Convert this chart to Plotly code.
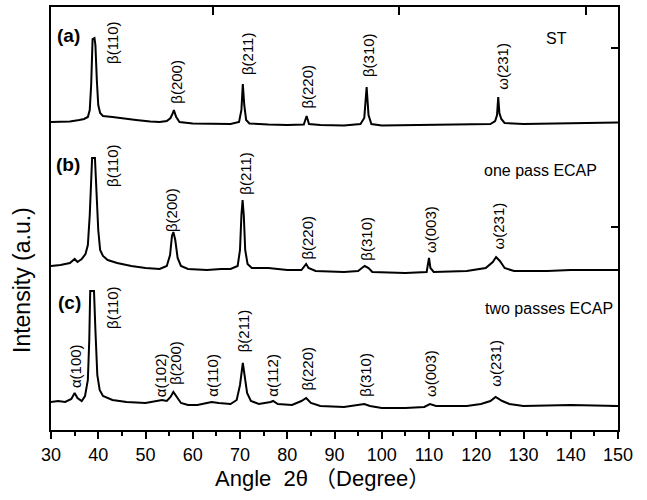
import plotly.graph_objects as go

# ---- data (intensity in arbitrary units with stacking offsets) ----
x_a = [30, 32, 34, 36, 37, 37.8, 38.2, 38.5, 38.7, 38.8, 39.2, 39.4, 39.7, 40.0, 40.4, 41, 43, 45, 48, 51, 53,
       54.5, 55.3, 55.8, 56.0, 56.5, 57.2, 60, 65, 68, 69.8, 70.3, 70.6, 70.9, 71.3, 72, 76, 80, 83.5, 84.1, 84.6,
       87, 92, 95.5, 96.3, 96.8, 97.2, 97.8, 100, 110, 118, 123, 124.0, 124.4, 124.65, 124.9, 125.3, 126, 130, 140, 150]
y_a = [308, 308, 308.5, 310, 311, 313, 320, 345, 380, 391, 392, 385, 350, 325, 317, 314, 313, 311.5, 310, 308.5, 308,
       309, 312, 317, 320, 313, 308, 306.5, 306, 306, 308, 320, 346, 325, 310, 306.5, 305.5, 305, 305.5, 314, 306,
       305, 304.5, 306, 312, 343, 315, 306, 304.5, 305, 305.5, 306, 309, 315, 333, 317, 311, 307, 306, 306.5, 307.5]

x_b = [30, 32, 34, 35, 35.6, 36.5, 37.3, 37.8, 38.2, 38.5, 38.7, 39.3, 39.6, 40.0, 40.4, 41.0, 42, 44, 47, 50, 53,
       54.5, 55.2, 55.6, 55.9, 56.3, 56.8, 57.5, 59, 63, 66, 68, 69.5, 70.0, 70.3, 70.55, 70.8, 71.1, 71.6, 72.5,
       76, 80, 83, 83.7, 84.0, 84.5, 86, 92, 95, 95.8, 96.4, 97.2, 98, 105, 109.5, 110.0, 110.3, 111, 118, 122,
       123.5, 124.2, 125.0, 126, 128, 135, 140, 150]
y_b = [164, 165, 167, 171, 168, 171, 176, 185, 215, 255, 272, 272, 245, 200, 180, 174, 170, 167, 164, 162, 161,
       164, 175, 194, 198, 190, 172, 164, 161, 160, 161, 161, 164, 180, 215, 230, 215, 180, 166, 162,
       162, 160, 160, 164, 166, 162, 159, 158, 159, 162, 164, 162, 158, 157, 158, 172, 162, 158, 159, 162,
       168, 173, 169, 162, 159, 159, 160, 160]

x_c = [30, 31.5, 33, 34.3, 35.0, 35.6, 36.5, 37.2, 37.8, 38.1, 38.3, 39.1, 39.4, 39.8, 40.3, 41.0, 43, 46, 50,
       52.5, 53.5, 54.5, 55.3, 55.9, 56.5, 57.5, 59, 61, 63, 64, 65.5, 68, 69.3, 70.0, 70.6, 71.0, 71.5, 72.3, 74,
       76.5, 77, 78, 81, 83, 84.0, 85, 87, 92, 95, 96.3, 97.5, 100, 105, 109, 110.2, 111.5, 118, 121, 123, 124.1,
       125.5, 127, 130, 140, 150]
y_c = [28, 29, 28, 31, 37, 32, 29, 34, 50, 90, 139, 139, 100, 55, 40, 34, 30, 28, 27,
       29, 30, 29, 33, 38, 34, 27, 25, 25, 27, 28, 27, 26, 30, 45, 67, 55, 37, 29, 26,
       28, 29, 26, 25, 29, 32, 27, 24, 23, 25, 26, 24, 22, 22, 23, 26, 24, 24, 26, 29, 33,
       29, 26, 24, 25, 24]

# peak labels: (text, angle position, height)
labels_a = [("β(110)", 42.9, 388), ("β(200)", 56.4, 348), ("β(211)", 71.5, 376), ("β(220)", 84.1, 343),
            ("β(310)", 97.1, 375), ("ω(231)", 125.4, 364)]
labels_b = [("β(110)", 42.9, 265), ("β(200)", 55.4, 220), ("β(211)", 71.0, 257), ("β(220)", 84.1, 192),
            ("β(310)", 96.6, 191), ("ω(003)", 110.2, 201), ("ω(231)", 124.5, 204)]
labels_c = [("α(100)", 35.1, 64), ("β(110)", 42.9, 123), ("α(102)", 53.1, 55), ("β(200)", 56.2, 67),
            ("α(110)", 64.0, 55), ("β(211)", 70.7, 99), ("α(112)", 76.7, 55), ("β(220)", 84.1, 61),
            ("β(310)", 96.4, 55), ("ω(003)", 110.2, 57), ("ω(231)", 123.9, 67)]
panel_tags = [("(a)", 33.6, 395), ("(b)", 33.5, 266), ("(c)", 34.0, 128)]
sample_names = [("ST", 137.0, 392), ("one pass ECAP", 133.6, 260), ("two passes ECAP", 135.5, 122)]

x_ticks = [30, 40, 50, 60, 70, 80, 90, 100, 110, 120, 130, 140, 150]
top_ticks = [64.35, 103.75, 143.2]
right_ticks = [382, 203, 24]

FONT = "Liberation Sans, Arial, sans-serif"

fig = go.Figure()
for xs, ys in [(x_a, y_a), (x_b, y_b), (x_c, y_c)]:
    fig.add_trace(go.Scatter(x=xs, y=ys, mode="lines", line=dict(color="black", width=2),
                             showlegend=False, hoverinfo="skip"))

ann = []
for grp in (labels_a, labels_b, labels_c):
    for t, xv, yv in grp:
        ann.append(dict(text=t, x=xv, y=yv, xref="x", yref="y", showarrow=False, textangle=-90,
                        xanchor="center", yanchor="middle", font=dict(family=FONT, size=15, color="black")))
for t, xv, yv in panel_tags:
    ann.append(dict(text="<b>%s</b>" % t, x=xv, y=yv, xref="x", yref="y", showarrow=False,
                    xanchor="center", yanchor="middle", font=dict(family=FONT, size=19, color="black")))
for t, xv, yv in sample_names:
    ann.append(dict(text=t, x=xv, y=yv, xref="x", yref="y", showarrow=False,
                    xanchor="center", yanchor="middle", font=dict(family=FONT, size=16, color="black")))
ann.append(dict(text="Angle  2θ （Degree）", x=322, y=22, xref="paper", yref="paper", showarrow=False,
                xanchor="center", yanchor="middle", font=dict(family=FONT + ", Noto Sans CJK SC", size=22, color="black")))
ann.append(dict(text="Intensity (a.u.)", x=22, y=220, xref="paper", yref="paper", showarrow=False, textangle=-90,
                xanchor="center", yanchor="middle", font=dict(family=FONT, size=23, color="black")))
# convert pixel positions of titles into paper fractions
W, H, L, R, T, B = 647, 500, 51, 29, 7, 70
pw, ph = W - L - R, H - T - B
for a in ann[-2:]:
    a["x"] = (a["x"] - L) / pw
    a["y"] = (a["y"] - B) / ph

fig.update_layout(
    width=W, height=H, margin=dict(l=L, r=R, t=T, b=B),
    paper_bgcolor="white", plot_bgcolor="white",
    annotations=ann,
    xaxis=dict(range=[30, 150], tickvals=x_ticks, ticks="outside", ticklen=7, tickwidth=1.5, tickcolor="black",
               showline=True, linecolor="black", linewidth=1.8, showgrid=False, zeroline=False,
               tickfont=dict(family=FONT, size=18, color="black"),
               minor=dict(dtick=5, tick0=30, ticks="outside", ticklen=4, tickwidth=1.5, tickcolor="black")),
    xaxis2=dict(range=[30, 150], overlaying="x", side="top", tickvals=top_ticks, ticks="inside", ticklen=8,
                tickwidth=1.5, tickcolor="black", showticklabels=False, showline=True, linecolor="black",
                linewidth=1.8, showgrid=False, zeroline=False),
    yaxis=dict(range=[0, 423], showline=True, linecolor="black", linewidth=1.8, ticks="", showticklabels=False,
               showgrid=False, zeroline=False),
    yaxis2=dict(range=[0, 423], overlaying="y", side="right", tickvals=right_ticks, ticks="inside", ticklen=7,
                tickwidth=1.5, tickcolor="black", showticklabels=False, showline=True, linecolor="black",
                linewidth=1.8, showgrid=False, zeroline=False),
)
# invisible trace to activate secondary axes
fig.add_trace(go.Scatter(x=[30], y=[0], xaxis="x2", yaxis="y2", mode="markers", marker=dict(opacity=0),
                         showlegend=False, hoverinfo="skip"))

fig.write_html("out.html", config={"displayModeBar": False},
               post_script="document.body.style.margin='0';")
